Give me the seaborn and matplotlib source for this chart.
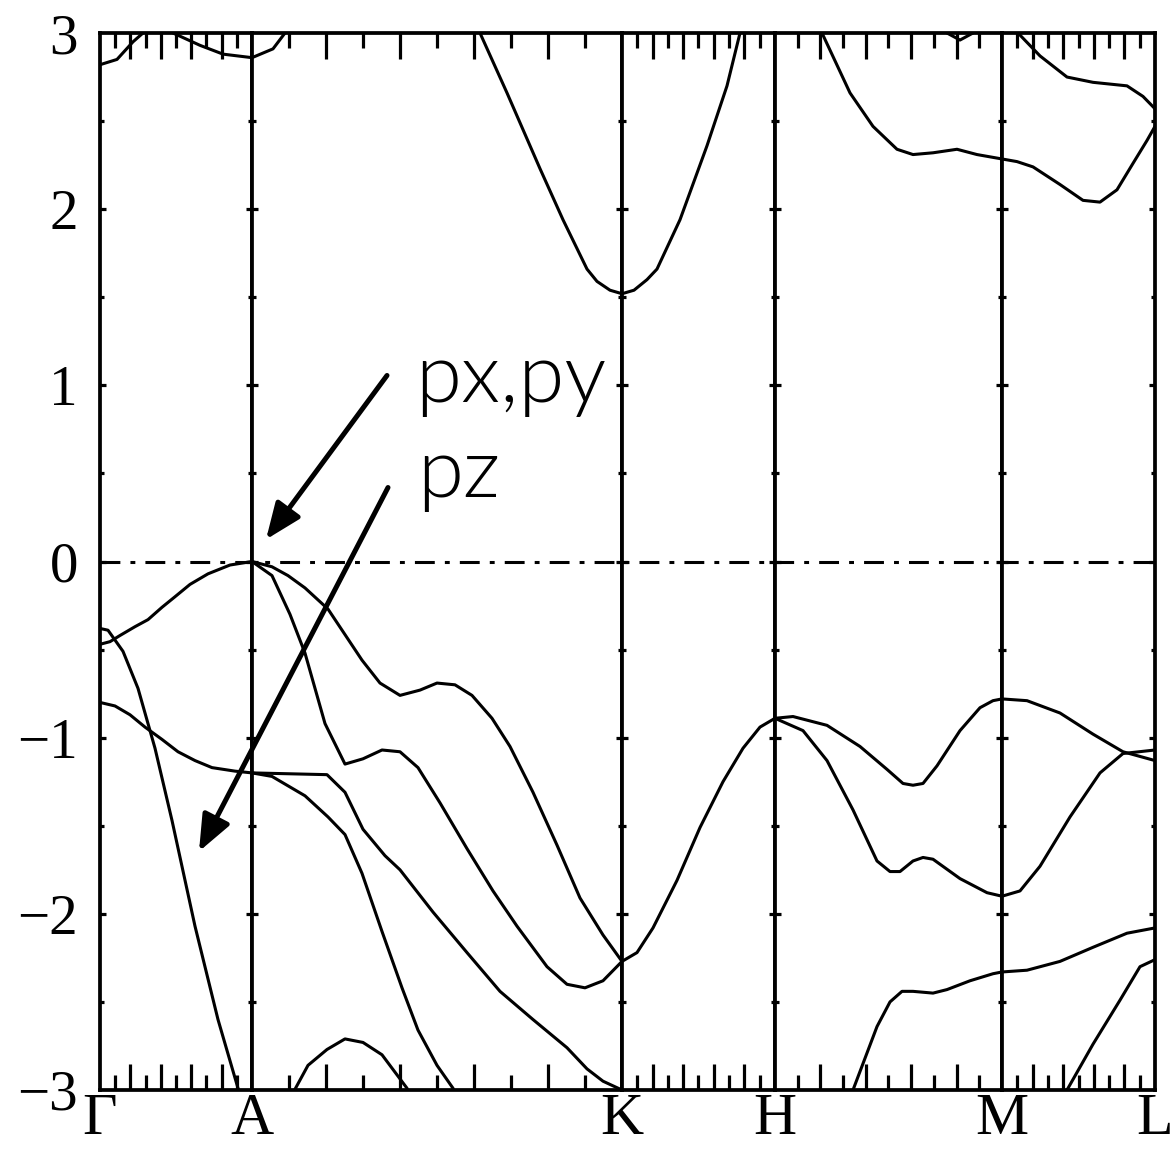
import numpy as np
import matplotlib
matplotlib.use("Agg")
import matplotlib.pyplot as plt
import seaborn as sns

# ---------------- data ----------------
sym_labels = ["Γ", "A", "K", "H", "M", "L"]
sym_k = [0.0, 1.52, 5.22, 6.75, 9.02, 10.55]
energy_ticks = [3, 2, 1, 0, -1, -2, -3]

# valence bands
band1_k = [0.00, 0.10, 0.20, 0.35, 0.48, 0.62, 0.75, 0.90, 1.08, 1.30, 1.52, 1.72, 1.88, 2.05,
           2.28, 2.62, 2.80, 3.00, 3.20, 3.37, 3.55, 3.72, 3.92, 4.10, 4.33, 4.57, 4.80, 5.03,
           5.22, 5.37, 5.53, 5.77, 6.00, 6.23, 6.43, 6.60, 6.75, 6.93, 7.27, 7.60, 7.87, 8.03,
           8.13, 8.23, 8.37, 8.60, 8.80, 8.93, 9.02, 9.27, 9.60, 9.93, 10.23, 10.55]
band1_E = [-0.47, -0.455, -0.42, -0.37, -0.33, -0.26, -0.20, -0.13, -0.07, -0.02, 0.00, -0.03,
           -0.08, -0.15, -0.27, -0.56, -0.69, -0.76, -0.73, -0.69, -0.70, -0.76, -0.89, -1.05,
           -1.31, -1.61, -1.91, -2.12, -2.27, -2.22, -2.08, -1.81, -1.51, -1.25, -1.06, -0.94,
           -0.89, -0.88, -0.93, -1.05, -1.18, -1.26, -1.27, -1.26, -1.16, -0.96, -0.83, -0.79,
           -0.78, -0.79, -0.86, -0.98, -1.08, -1.13]

band2_k = [1.52, 1.72, 1.90, 2.05, 2.25, 2.45, 2.63, 2.82, 3.00, 3.18, 3.40, 3.67, 3.93, 4.17,
           4.47, 4.67, 4.85, 5.03, 5.22]
band2_E = [0.00, -0.08, -0.30, -0.52, -0.92, -1.15, -1.12, -1.07, -1.08, -1.17, -1.37, -1.63,
           -1.87, -2.07, -2.30, -2.40, -2.42, -2.38, -2.27]

band3_k = [6.75, 7.03, 7.27, 7.53, 7.77, 7.90, 8.00, 8.13, 8.23, 8.33, 8.60, 8.87, 9.02, 9.20,
           9.40, 9.70, 10.00, 10.23, 10.55]
band3_E = [-0.89, -0.96, -1.13, -1.41, -1.70, -1.76, -1.76, -1.70, -1.68, -1.69, -1.80, -1.88,
           -1.90, -1.87, -1.73, -1.45, -1.20, -1.09, -1.07]

band4_k = [0.00, 0.08, 0.23, 0.38, 0.55, 0.72, 0.95, 1.18, 1.38, 1.45]
band4_E = [-0.38, -0.39, -0.51, -0.72, -1.06, -1.47, -2.07, -2.60, -2.99, -3.12]

band5_k = [0.00, 0.15, 0.30, 0.45, 0.62, 0.78, 0.95, 1.12, 1.35, 1.52, 2.27, 2.45, 2.63, 2.85,
           3.00, 3.33, 3.67, 4.00, 4.33, 4.67, 4.87, 5.03, 5.22]
band5_E = [-0.80, -0.82, -0.87, -0.94, -1.01, -1.08, -1.13, -1.17, -1.19, -1.20, -1.21, -1.31,
           -1.52, -1.67, -1.75, -1.99, -2.22, -2.44, -2.60, -2.76, -2.88, -2.95, -3.00]

band6_k = [1.52, 1.72, 2.05, 2.28, 2.45, 2.62, 2.82, 3.02, 3.18, 3.37, 3.53, 3.60]
band6_E = [-1.20, -1.22, -1.33, -1.45, -1.55, -1.77, -2.10, -2.42, -2.66, -2.86, -2.99, -3.10]

band7_k = [1.85, 2.08, 2.27, 2.45, 2.63, 2.82, 3.07, 3.12]
band7_E = [-3.10, -2.86, -2.77, -2.71, -2.73, -2.80, -2.99, -3.08]

band8_k = [7.48, 7.53, 7.77, 7.90, 8.02, 8.13, 8.33, 8.47, 8.70, 8.93, 9.02, 9.27, 9.60, 9.93,
           10.27, 10.55]
band8_E = [-3.10, -3.00, -2.64, -2.50, -2.44, -2.44, -2.45, -2.43, -2.38, -2.34, -2.33, -2.32,
           -2.27, -2.19, -2.11, -2.08]

band9_k = [9.62, 9.67, 9.93, 10.20, 10.40, 10.55]
band9_E = [-3.10, -3.00, -2.74, -2.49, -2.30, -2.26]

# conduction bands
cband1_k = [0.00, 0.17, 0.33, 0.43, 0.50]
cband1_E = [2.82, 2.85, 2.95, 3.00, 3.05]

cband2_k = [0.65, 0.73, 1.00, 1.23, 1.52, 1.73, 1.85, 1.90]
cband2_E = [3.05, 3.00, 2.93, 2.88, 2.86, 2.91, 3.00, 3.05]

cband3_k = [3.75, 3.80, 4.07, 4.40, 4.63, 4.87, 4.97, 5.10, 5.22, 5.34, 5.47, 5.57, 5.80, 6.07,
            6.27, 6.40, 6.43]
cband3_E = [3.05, 3.00, 2.66, 2.23, 1.94, 1.66, 1.59, 1.54, 1.52, 1.54, 1.60, 1.66, 1.94, 2.36,
            2.70, 3.00, 3.06]

cband4_k = [7.20, 7.22, 7.50, 7.73, 7.97, 8.13, 8.33, 8.57, 8.77, 8.97, 9.17, 9.33, 9.60, 9.83,
            10.00, 10.17, 10.33, 10.47, 10.55]
cband4_E = [3.05, 3.00, 2.66, 2.47, 2.34, 2.31, 2.32, 2.34, 2.31, 2.29, 2.27, 2.24, 2.14, 2.05,
            2.04, 2.11, 2.26, 2.39, 2.47]

cband5_k = [9.15, 9.18, 9.40, 9.67, 9.93, 10.27, 10.43, 10.55]
cband5_E = [3.05, 3.00, 2.87, 2.75, 2.72, 2.70, 2.64, 2.57]

cband6_k = [8.40, 8.47, 8.60, 8.73, 8.80]
cband6_E = [3.03, 3.00, 2.96, 3.00, 3.03]

bands = [(band1_k, band1_E), (band2_k, band2_E), (band3_k, band3_E), (band4_k, band4_E),
         (band5_k, band5_E), (band6_k, band6_E), (band7_k, band7_E), (band8_k, band8_E),
         (band9_k, band9_E), (cband1_k, cband1_E), (cband2_k, cband2_E), (cband3_k, cband3_E),
         (cband4_k, cband4_E), (cband5_k, cband5_E), (cband6_k, cband6_E)]

# annotations
label_pxpy = "px,py"
label_pz = "pz"

# ---------------- style ----------------
sns.set_style("white")
plt.rcParams["font.family"] = ["Liberation Serif", "DejaVu Serif"]
plt.rcParams["axes.unicode_minus"] = True
plt.rcParams["text.color"] = "black"
plt.rcParams["xtick.color"] = "black"
plt.rcParams["ytick.color"] = "black"
plt.rcParams["axes.labelcolor"] = "black"
plt.rcParams["lines.solid_joinstyle"] = "round"

W, H = 1173, 1149
fig = plt.figure(figsize=(W / 100, H / 100), dpi=100)
left, right = 100 / W, 1155 / W
bottom, top = 1 - 1090 / H, 1 - 33 / H

seg_len = [sym_k[i + 1] - sym_k[i] for i in range(5)]
gs = fig.add_gridspec(1, 5, left=left, right=right, bottom=bottom, top=top,
                      wspace=0, width_ratios=seg_len)

line_lw = 2.2
spine_lw = 2.7

for i in range(5):
    ax = fig.add_subplot(gs[0, i])
    for kk, ee in bands:
        sns.lineplot(x=np.array(kk), y=np.array(ee), ax=ax, color="black", lw=line_lw,
                     sort=False, estimator=None)
    ax.set_xlim(sym_k[i], sym_k[i + 1])
    ax.set_ylim(-3, 3)
    L = seg_len[i]
    ax.set_xticks([sym_k[i] + L * f for f in (0.2, 0.4, 0.6, 0.8)])
    ax.set_xticks([sym_k[i] + L * f for f in (0.1, 0.3, 0.5, 0.7, 0.9)], minor=True)
    ax.set_yticks([-2, -1, 0, 1, 2])
    ax.set_yticks([-2.5, -1.5, -0.5, 0.5, 1.5, 2.5], minor=True)
    ax.tick_params(axis="x", which="major", direction="in", top=True, bottom=True,
                   length=18.5, width=2.3, labelbottom=False, labeltop=False)
    ax.tick_params(axis="x", which="minor", direction="in", top=True, bottom=True,
                   length=11, width=2.3)
    ax.tick_params(axis="y", which="major", direction="in", left=True, right=True,
                   length=4.5, width=2.3, labelleft=False, labelright=False)
    ax.tick_params(axis="y", which="minor", direction="in", left=True, right=True,
                   length=3, width=2.3)
    for sp in ax.spines.values():
        sp.set_linewidth(spine_lw)
        sp.set_color("black")
    ax.set_xlabel("")
    ax.set_ylabel("")

# overlay axes for labels, Fermi level and annotations
ov = fig.add_axes([left, bottom, right - left, top - bottom])
ov.patch.set_alpha(0)
for sp in ov.spines.values():
    sp.set_visible(False)
ov.set_xlim(sym_k[0], sym_k[-1])
ov.set_ylim(-3, 3)
ov.set_xticks(sym_k)
ov.set_xticklabels(sym_labels, fontsize=43, color="black")
ov.set_yticks(energy_ticks)
ov.set_yticklabels([str(v).replace("-", "\u2212") for v in energy_ticks], fontsize=41,
                   color="black")
ov.tick_params(axis="x", length=0, pad=2)
ov.tick_params(axis="y", length=0, pad=16)

ov.axhline(0, color="black", lw=2.2, dashes=(6.5, 3.3, 1.6, 3.3))

ann_font = dict(family=["Lato", "DejaVu Sans"], fontweight=300, fontsize=60,
                color="black")
ov.text(3.15, 0.905, label_pxpy, ha="left", va="baseline", **ann_font)
ov.text(3.17, 0.366, label_pz, ha="left", va="baseline", **ann_font)

arrow_props = dict(arrowstyle="-|>,head_length=1.1,head_width=0.45", lw=3.6, color="black",
                   shrinkA=0, shrinkB=0, mutation_scale=20)
ov.annotate("", xy=(1.66, 0.125), xytext=(2.87, 1.056), arrowprops=arrow_props,
            annotation_clip=False)
ov.annotate("", xy=(0.99, -1.646), xytext=(2.88, 0.42), arrowprops=arrow_props,
            annotation_clip=False)

fig.savefig("out.png", dpi=100)
